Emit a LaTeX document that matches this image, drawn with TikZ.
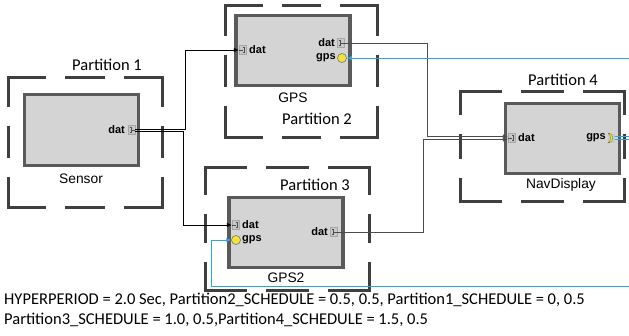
\documentclass[tikz,border=0pt]{standalone}
\usepackage{fontspec}
\setmainfont{Carlito}
\newfontfamily\arialf{Liberation Sans}
\usetikzlibrary{arrows.meta,calc}
\definecolor{boxfill}{HTML}{D4D4D4}
\definecolor{boxline}{HTML}{5A5A5A}
\definecolor{partcol}{HTML}{3F3F3F}
\definecolor{bluel}{HTML}{2BA6DE}
\definecolor{portfill}{HTML}{C9C9C9}
\definecolor{yel}{HTML}{F2E33A}
\newcommand\partrect[4]{%
 \pgfmathsetmacro\pbdw{((#3)-(#1)-44)/3}%
 \pgfmathsetmacro\pbdh{((#4)-(#2)-44)/3}%
 \draw[partstyle,dash pattern=on \pbdw pt off 22pt] (#1,#2) -- (#3,#2);
 \draw[partstyle,dash pattern=on \pbdw pt off 22pt] (#1,#4) -- (#3,#4);
 \draw[partstyle,dash pattern=on \pbdh pt off 22pt] (#1,#2) -- (#1,#4);
 \draw[partstyle,dash pattern=on \pbdh pt off 22pt] (#3,#2) -- (#3,#4);
}
\tikzset{
 partstyle/.style={draw=partcol,line width=3pt,line cap=rect},
 ptitle/.style={font=\fontsize{16.5}{18}\selectfont,inner sep=0},
 comp/.style={draw=boxline,fill=boxfill,line width=3.5pt,inner sep=0,minimum width=114pt,minimum height=70pt},
 cname/.style={font=\arialf\fontsize{13.8}{15}\selectfont,inner sep=0},
 plabel/.style={font=\arialf\bfseries\fontsize{11}{12}\selectfont,inner sep=0},
 port/.style={draw=gray!70,fill=portfill,line width=0.3pt,minimum width=7pt,minimum height=9pt,inner sep=0},
 gport/.style={circle,draw=black!60,fill=yel,line width=0.5pt,minimum size=9pt,inner sep=0},
 conn/.style={draw=black,line width=0.8pt},
 gconn/.style={draw=black!70,line width=0.8pt},
 bconn/.style={draw=bluel,line width=0.8pt},
 arr/.style={-{Latex[length=5pt,width=4.5pt]}},
 brk/.style={draw=black!70,line width=0.5pt},
 foot/.style={font=\fontsize{16.5}{18}\selectfont,inner sep=0,anchor=west}
}
\begin{document}
\begin{tikzpicture}[x=1pt,y=-1pt]
\useasboundingbox (0,0) rectangle (629,335);
% partitions
\partrect{8}{77}{162}{207}
\partrect{225}{5}{377}{137}
\partrect{205}{167}{369}{290}
\partrect{460}{91}{624}{201}
\node[ptitle] (t1) at (107,65) {Partition 1};
\node[ptitle] (t2) at (317,119) {Partition 2};
\node[ptitle] (t3) at (315,185) {Partition 3};
\node[ptitle] (t4) at (563,80) {Partition 4};
% components
\node[comp,minimum height=71pt] (sensor) at (81.5,130) {};
\node[comp] (gps) at (293,50.5) {};
\node[comp] (gps2) at (286,232.5) {};
\node[comp] (nav) at (562.5,138.5) {};
\node[cname] (ls) at (81,179) {Sensor};
\node[cname] (lg) at (293,98) {GPS};
\node[cname] (lg2) at (286,278) {GPS2};
\node[cname] (ln) at (561,185) {NavDisplay};
% ports
\node[port] (sdat) at (131.5,130) {};
\node[plabel,anchor=east] (lsdat) at (125,129.5) {dat};
\node[port] (gdin) at (242.5,50) {};
\node[plabel,anchor=west] (lgdin) at (249,49.5) {dat};
\node[port] (gdout) at (340.5,43) {};
\node[plabel,anchor=east] (lgdout) at (335,42.5) {dat};
\node[gport] (ggps) at (342,58) {};
\node[plabel,anchor=east] (lggps) at (336,57.5) {gps};
\node[port] (g2din) at (235.5,225) {};
\node[plabel,anchor=west] (lg2din) at (242,224.5) {dat};
\node[gport] (g2gps) at (236,240) {};
\node[plabel,anchor=west] (lg2gps) at (242,239.5) {gps};
\node[port] (g2dout) at (333.5,232) {};
\node[plabel,anchor=east] (lg2dout) at (328,231.5) {dat};
\node[port] (ndin) at (511.5,138) {};
\node[plabel,anchor=west] (lndin) at (518,137.5) {dat};
\node[port,draw=none] (ngps) at (611,138) {};
\node[plabel,anchor=east] (lngps) at (606,137.5) {gps};
\fill[yel,draw=olive!70!black,line width=0.3pt] ($(ngps)+(-3,-5)$) .. controls ($(ngps)+(3.5,-4)$) and ($(ngps)+(3.5,4)$) .. ($(ngps)+(-3,5)$) .. controls ($(ngps)+(0.5,2)$) and ($(ngps)+(0.5,-2)$) .. cycle;
% bracket glyphs
\foreach \p in {sdat,gdout,g2dout}{
 \draw[brk] ($(\p)+(-2,-2.5)$) -- ++(2,0) -- ++(0,5) -- ++(-2,0);
 \draw[brk] (\p.center) -- (\p.east);
}
\foreach \p in {gdin,g2din,ndin}{
 \draw[brk] ($(\p)+(0,-2.5)$) -- ++(2,0) -- ++(0,5) -- ++(-2,0);
 \draw[brk] (\p.west) -- (\p.center);
}
% connector helper points
\coordinate (sa) at ([yshift=1pt]sdat.east);
\coordinate (sb) at ([yshift=-1pt]sdat.east);
\coordinate (sx1) at (185,0);
\coordinate (sx2) at (183,0);
\coordinate (na) at ([yshift=1.5pt]ndin.west);
\coordinate (nb) at ([yshift=-1.5pt]ndin.west);
\coordinate (nx1) at (427,0);
\coordinate (nx2) at (423,0);
% connectors
\draw[conn,arr] (sa) -- (sx1 |- sa) |- (gdin.west);
\draw[conn,arr] (sb) -- (sx2 |- sb) |- (g2din.west);
\draw[gconn,arr] (gdout.east) -- (nx1 |- gdout.east) |- (na);
\draw[gconn,arr] (g2dout.east) -- (nx2 |- g2dout.east) |- (nb);
% blue connectors
\coordinate (r1) at (629,58);
\coordinate (r2) at (629,286);
\coordinate (bx) at (211,286);
\draw[bconn,arr] (r1) -- (ggps.east);
\draw[bconn,arr] (r2) -- (bx) |- (g2gps.west);
\coordinate (ga) at ([yshift=1.5pt]ngps.east);
\coordinate (gb) at ([yshift=-1.5pt]ngps.east);
\coordinate (r3) at (629,136.5);
\coordinate (r4) at (629,139.5);
\draw[bconn] (ga) -- (r3);
\draw[bconn] (gb) -- (r4);
% footer
\node[foot] (f1) at (4,300) {HYPERPERIOD = 2.0 Sec, Partition2\_SCHEDULE = 0.5, 0.5, Partition1\_SCHEDULE = 0, 0.5};
\node[foot] (f2) at (4,320) {Partition3\_SCHEDULE = 1.0, 0.5,Partition4\_SCHEDULE = 1.5, 0.5};
\end{tikzpicture}
\end{document}
